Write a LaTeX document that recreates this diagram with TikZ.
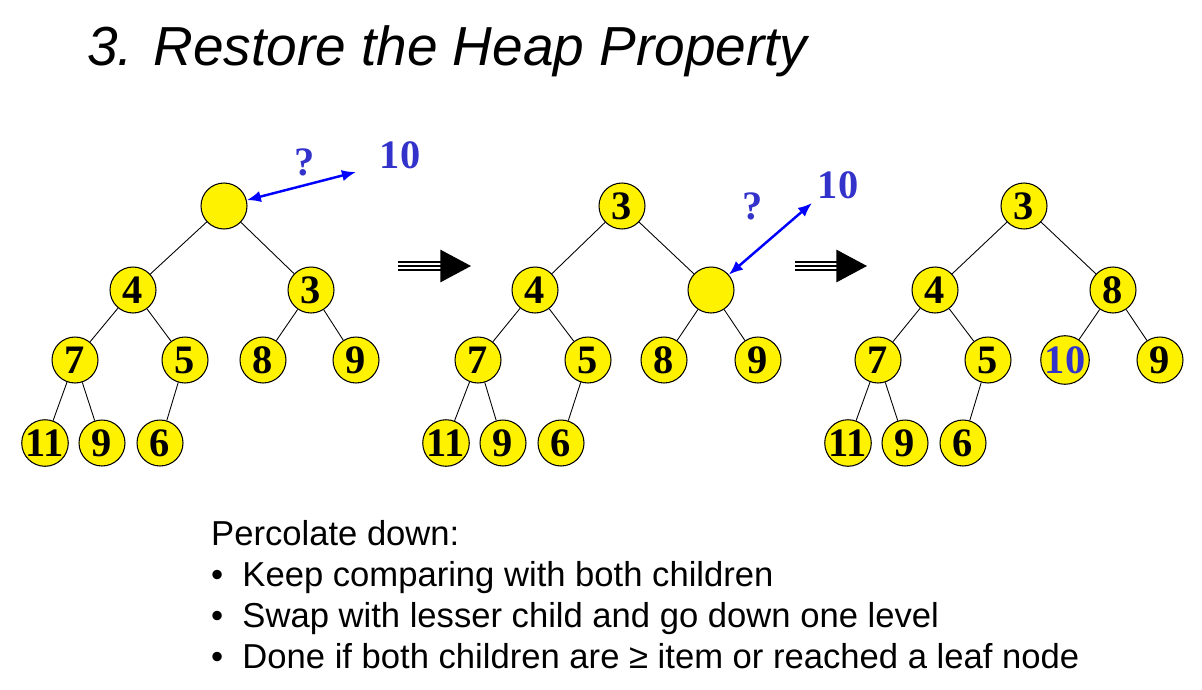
\documentclass[tikz,border=0pt]{standalone}
\usepackage{fontspec}
\setmainfont{Liberation Serif}
\newfontfamily\slidefont{Liberation Sans}
\usetikzlibrary{arrows.meta}
\definecolor{numblue}{RGB}{51,51,204}
\begin{document}
\begin{tikzpicture}[x=0.02cm,y=-0.02cm,
  key/.style={circle,draw,line width=0.6pt,fill=yellow,minimum size=0.92cm,inner sep=0pt,
    font=\fontsize{23}{23}\selectfont\bfseries},
  link/.style={line width=0.5pt},
  cmp/.style={{Latex[length=8pt,width=6.5pt]}-{Latex[length=8pt,width=6.5pt]},blue,line width=1.4pt},
  blue label/.style={text=numblue,font=\fontsize{23}{23}\selectfont\bfseries},
  bigarrow/.style={line width=0.85pt},
  line/.style={anchor=base west,font=\slidefont\fontsize{19.7}{23}\selectfont}]
\useasboundingbox (0,0) rectangle (1202,689);
\node[anchor=base west,font=\slidefont\itshape\fontsize{31.3}{37}\selectfont] (title) at (81,66) {3. Restore the Heap Property};

% first tree: hole at the root
\node[key] (t1r) at (224,206) {};
\node[key] (t1a) at (133,290) {4};
\node[key] (t1b) at (311,290) {3};
\node[key] (t1c) at (75,360) {7};
\node[key] (t1d) at (185,360) {5};
\node[key] (t1e) at (263,360) {8};
\node[key] (t1f) at (356,360) {9};
\node[key] (t1g) at (45,443) {11};
\node[key] (t1h) at (102,443) {9};
\node[key] (t1i) at (160,443) {6};
\draw[link] (t1r)--(t1a) (t1r)--(t1b) (t1a)--(t1c) (t1a)--(t1d) (t1b)--(t1e) (t1b)--(t1f)
  (t1c)--(t1g) (t1c)--(t1h) (t1d)--(t1i);
\coordinate (q1) at (356,172);
\draw[cmp] (t1r)--(q1);
\node[blue label] (ask1) at (305,162) {?};
\node[blue label] (item1) at (400,155) {10};

% arrow to the second tree
\coordinate (m1s) at (398,266);
\coordinate (m1b) at (441,266);
\coordinate (m1e) at (471,266);
\draw[bigarrow,double,double distance=3.7pt] (m1s)--(m1b);
\draw[bigarrow,-{Triangle[length=17.5pt,width=18.5pt]}] (m1s)--(m1e);

% second tree: hole moved down
\node[key] (t2r) at (622,206) {3};
\node[key] (t2a) at (535,290) {4};
\node[key] (t2b) at (711,290) {};
\node[key] (t2c) at (478,360) {7};
\node[key] (t2d) at (588,360) {5};
\node[key] (t2e) at (664,360) {8};
\node[key] (t2f) at (758,360) {9};
\node[key] (t2g) at (446,443) {11};
\node[key] (t2h) at (503,443) {9};
\node[key] (t2i) at (561,443) {6};
\draw[link] (t2r)--(t2a) (t2r)--(t2b) (t2a)--(t2c) (t2a)--(t2d) (t2b)--(t2e) (t2b)--(t2f)
  (t2c)--(t2g) (t2c)--(t2h) (t2d)--(t2i);
\coordinate (q2) at (812,203);
\draw[cmp] (t2b)--(q2);
\node[blue label] (ask2) at (753,206) {?};
\node[blue label] (item2) at (838,185) {10};

% arrow to the third tree
\coordinate (m2s) at (795,266);
\coordinate (m2b) at (837,266);
\coordinate (m2e) at (867,266);
\draw[bigarrow,double,double distance=3.7pt] (m2s)--(m2b);
\draw[bigarrow,-{Triangle[length=17.5pt,width=18.5pt]}] (m2s)--(m2e);

% third tree: item placed
\node[key] (t3r) at (1024,206) {3};
\node[key] (t3a) at (935,290) {4};
\node[key] (t3b) at (1113,290) {8};
\node[key] (t3c) at (878,360) {7};
\node[key] (t3d) at (988,360) {5};
\node[key,text=numblue] (t3e) at (1065,360) {10};
\node[key] (t3f) at (1160,360) {9};
\node[key] (t3g) at (848,443) {11};
\node[key] (t3h) at (905,443) {9};
\node[key] (t3i) at (963,443) {6};
\draw[link] (t3r)--(t3a) (t3r)--(t3b) (t3a)--(t3c) (t3a)--(t3d) (t3b)--(t3e) (t3b)--(t3f)
  (t3c)--(t3g) (t3c)--(t3h) (t3d)--(t3i);

% notes
\node[line] (head) at (205,545) {Percolate down:};
\node[line] (b1) at (205,586) {\makebox[17.8pt][l]{•}Keep comparing with both children};
\node[line] (b2) at (205,627) {\makebox[17.8pt][l]{•}Swap with lesser child and go down one level};
\node[line] (b3) at (205,668) {\makebox[17.8pt][l]{•}Done if both children are ≥ item or reached a leaf node};
\end{tikzpicture}
\end{document}
